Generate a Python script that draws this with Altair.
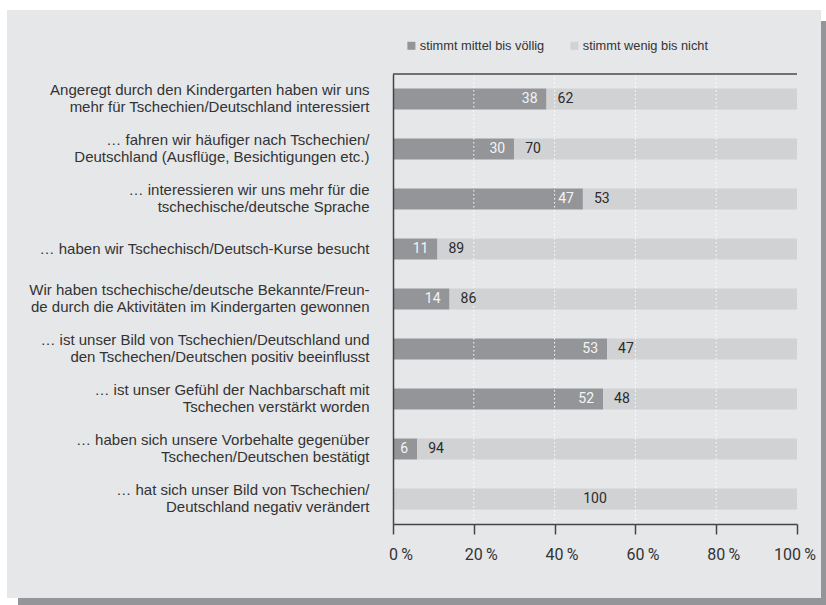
import altair as alt
import pandas as pd

categories = [
    "Angeregt durch den Kindergarten haben wir uns\nmehr für Tschechien/Deutschland interessiert",
    "… fahren wir häufiger nach Tschechien/\nDeutschland (Ausflüge, Besichtigungen etc.)",
    "… interessieren wir uns mehr für die\ntschechische/deutsche Sprache",
    "… haben wir Tschechisch/Deutsch-Kurse besucht",
    "Wir haben tschechische/deutsche Bekannte/Freun-\nde durch die Aktivitäten im Kindergarten gewonnen",
    "… ist unser Bild von Tschechien/Deutschland und\nden Tschechen/Deutschen positiv beeinflusst",
    "… ist unser Gefühl der Nachbarschaft mit\nTschechen verstärkt worden",
    "… haben sich unsere Vorbehalte gegenüber\nTschechen/Deutschen bestätigt",
    "… hat sich unser Bild von Tschechien/\nDeutschland negativ verändert",
]
mittel = [38, 30, 47, 11, 14, 53, 52, 6, 0]
wenig = [62, 70, 53, 89, 86, 47, 48, 94, 100]
series = ["stimmt mittel bis völlig", "stimmt wenig bis nicht"]
series_colors = ["#939598", "#d1d2d4"]
x_ticks = [0, 20, 40, 60, 80, 100]
grid_ticks = [20, 40, 60, 80]

rows = []
for c, m, w in zip(categories, mittel, wenig):
    rows.append({"cat": c, "series": series[0], "start": 0, "end": m, "value": m})
    rows.append({"cat": c, "series": series[1], "start": m, "end": m + w, "value": w})
df = pd.DataFrame(rows)

W, H = 404, 450
one = pd.DataFrame({"k": [0]})


def deco(x, x2, y, y2, color):
    return alt.Chart(one).mark_rect(color=color, strokeWidth=0).encode(
        x=alt.value(x), x2=alt.value(x2), y=alt.value(y), y2=alt.value(y2)
    )


white = deco(-393, 433, -74, 531, "#ffffff")
shadow = deco(-375, 433, -53, 531, "#939598")
panel = deco(-386, 428, -64, 524, "#e6e7e9")

xscale = alt.Scale(domain=[0, 100], nice=False)
yscale = alt.Scale(domain=categories, paddingInner=0.58, paddingOuter=0.29)

x_axis = alt.Axis(
    title=None,
    values=x_ticks,
    labelExpr="datum.value + '\u2009%'",
    labelFont="Roboto",
    labelFontSize=16,
    labelColor="#333333",
    labelPadding=12,
    labelOffset=7,
    labelFlush=True,
    labelFlushOffset=11.5,
    grid=False,
    tickSize=10,
    tickColor="#444444",
    tickWidth=1.5,
    domainColor="#444444",
    domainWidth=1.5,
    zindex=1,
)

y_axis = alt.Axis(
    title=None,
    labelExpr="split(datum.label, '\\n')",
    labelFont="Liberation Sans",
    labelFontSize=15,
    labelColor="#333333",
    labelLineHeight=17,
    labelPadding=24,
    labelLimit=500,
    labelBaseline={
        "condition": {"test": "indexof(datum.value, '\\n') >= 0", "value": "line-bottom"},
        "value": "middle",
    },
    ticks=False,
    grid=False,
    domainColor="#444444",
    domainWidth=1.5,
    zindex=1,
)

Y = alt.Y("cat:N", sort=categories, scale=yscale, axis=y_axis)

bars = alt.Chart(df).mark_bar().encode(
    y=Y,
    x=alt.X("start:Q", scale=xscale, axis=x_axis),
    x2="end:Q",
    color=alt.Color(
        "series:N",
        scale=alt.Scale(domain=series, range=series_colors),
        legend=alt.Legend(
            title=None,
            orient="none",
            legendX=12,
            legendY=-35,
            direction="horizontal",
            symbolType="square",
            symbolSize=64,
            symbolStrokeWidth=0,
            symbolOpacity=1,
            labelFont="Liberation Sans",
            labelFontSize=12.8,
            labelColor="#333333",
            columnPadding=23,
            labelOffset=2,
            padding=0,
            zindex=1,
        ),
    ),
)

grid = alt.Chart(pd.DataFrame({"v": grid_ticks})).mark_rule(
    color="#ffffff", strokeWidth=1, strokeDash=[1.5, 2.5]
).encode(x=alt.X("v:Q", scale=xscale, axis=x_axis), y=alt.value(0), y2=alt.value(H))

top_line = alt.Chart(one).mark_rule(color="#4a4a4a", strokeWidth=1.5).encode(
    x=alt.value(0), x2=alt.value(W), y=alt.value(0)
)

dark_text = alt.Chart(df).transform_filter(
    (alt.datum.series == series[0]) & (alt.datum.value > 0)
).mark_text(align="right", baseline="middle", dx=-9, font="Roboto", fontSize=14, color="#f4f4f4").encode(
    x=alt.X("end:Q", scale=xscale, axis=x_axis), y=Y, text="value:Q"
)

light_text = alt.Chart(df).transform_filter(
    (alt.datum.series == series[1]) & (alt.datum.start > 0)
).mark_text(align="left", baseline="middle", dx=11, font="Roboto", fontSize=14, color="#2b2b2b").encode(
    x=alt.X("start:Q", scale=xscale, axis=x_axis), y=Y, text="value:Q"
)

full_text = alt.Chart(df).transform_filter(
    (alt.datum.series == series[1]) & (alt.datum.start == 0)
).transform_calculate(mid="(datum.start + datum.end) / 2").mark_text(
    align="center", baseline="middle", font="Roboto", fontSize=14, color="#2b2b2b"
).encode(
    x=alt.X("mid:Q", scale=xscale, axis=x_axis), y=Y, text="value:Q"
)

chart = alt.layer(
    white, shadow, panel, bars, grid, top_line, dark_text, light_text, full_text
).properties(width=W, height=H, padding=0, background="#ffffff").configure_view(stroke=None)

chart.save("out.html", embed_options={"renderer": "svg", "actions": False})
